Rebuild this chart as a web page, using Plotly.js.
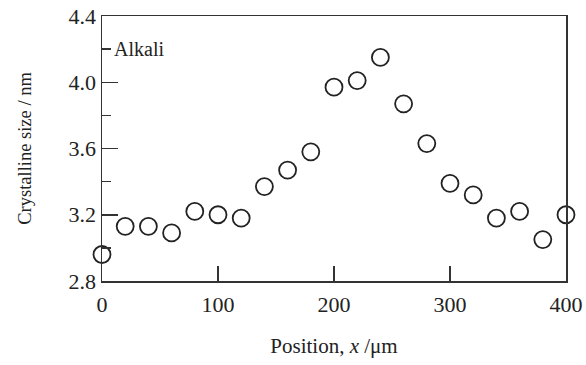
<!DOCTYPE html>
<html>
<head>
<meta charset="utf-8">
<script src="https://cdn.plot.ly/plotly-3.0.1.min.js"></script>
<style>html,body{margin:0;padding:0;background:#fff;}#chart{width:586px;height:365px;}</style>
</head>
<body>
<div id="chart"></div>
<script>
const positions = [0, 20, 40, 60, 80, 100, 120, 140, 160, 180, 200, 220, 240, 260, 280, 300, 320, 340, 360, 380, 400];
const crystallineSize = [2.96, 3.13, 3.13, 3.09, 3.22, 3.20, 3.18, 3.37, 3.47, 3.58, 3.97, 4.01, 4.15, 3.87, 3.63, 3.39, 3.32, 3.18, 3.22, 3.05, 3.20];
const xTicks = [0, 100, 200, 300, 400];
const yTicks = [2.8, 3.2, 3.6, 4.0, 4.4];
const yTickText = ['2.8', '3.2', '3.6', '4.0', '4.4'];
const seriesLabel = 'Alkali';

const fam = '"Liberation Serif", "Times New Roman", serif';
const tickFont = {family: fam, color: '#222', size: 22};
const labelFont = {family: fam, color: '#222', size: 20};
const xTitleFont = {family: fam, color: '#222', size: 21};
const yTitleFont = {family: fam, color: '#222', size: 18.5};

const trace = {
  x: positions, y: crystallineSize, mode: 'markers', type: 'scatter',
  cliponaxis: false,
  marker: {symbol: 'circle-open', size: 17, color: '#222', line: {width: 1.8, color: '#222'}}
};

const layout = {
  width: 586, height: 365,
  margin: {l: 102, r: 20, t: 16, b: 84},
  paper_bgcolor: '#fff', plot_bgcolor: '#fff',
  showlegend: false,
  font: tickFont,
  xaxis: {
    range: [0, 400], tickvals: xTicks, ticktext: xTicks.map(String),
    ticks: 'inside', ticklen: 15, tickwidth: 1.5, tickcolor: '#333',
    ticklabelstandoff: 3,
    showline: true, linecolor: '#333', linewidth: 1.5, mirror: true,
    showgrid: false, zeroline: false,
    tickfont: tickFont,
    title: {text: 'Position, <i>x</i> /μm', font: xTitleFont, standoff: 22}
  },
  yaxis: {
    range: [2.8, 4.4], tickvals: yTicks, ticktext: yTickText,
    ticks: 'inside', ticklen: 16, tickwidth: 1.5, tickcolor: '#333',
    minor: {dtick: 0.2, tick0: 2.8, ticks: 'inside', ticklen: 9, tickwidth: 1.5, tickcolor: '#333', showgrid: false},
    showline: true, linecolor: '#333', linewidth: 1.5, mirror: true,
    showgrid: false, zeroline: false,
    tickfont: tickFont,
    title: {text: 'Crystalline size / nm', font: yTitleFont, standoff: 32}
  },
  annotations: [{
    x: 9, y: 4.2, xref: 'x', yref: 'y', text: seriesLabel, showarrow: false,
    xanchor: 'left', yanchor: 'middle', font: labelFont
  }]
};

Plotly.newPlot('chart', [trace], layout, {displayModeBar: false, staticPlot: true});
</script>
</body>
</html>
